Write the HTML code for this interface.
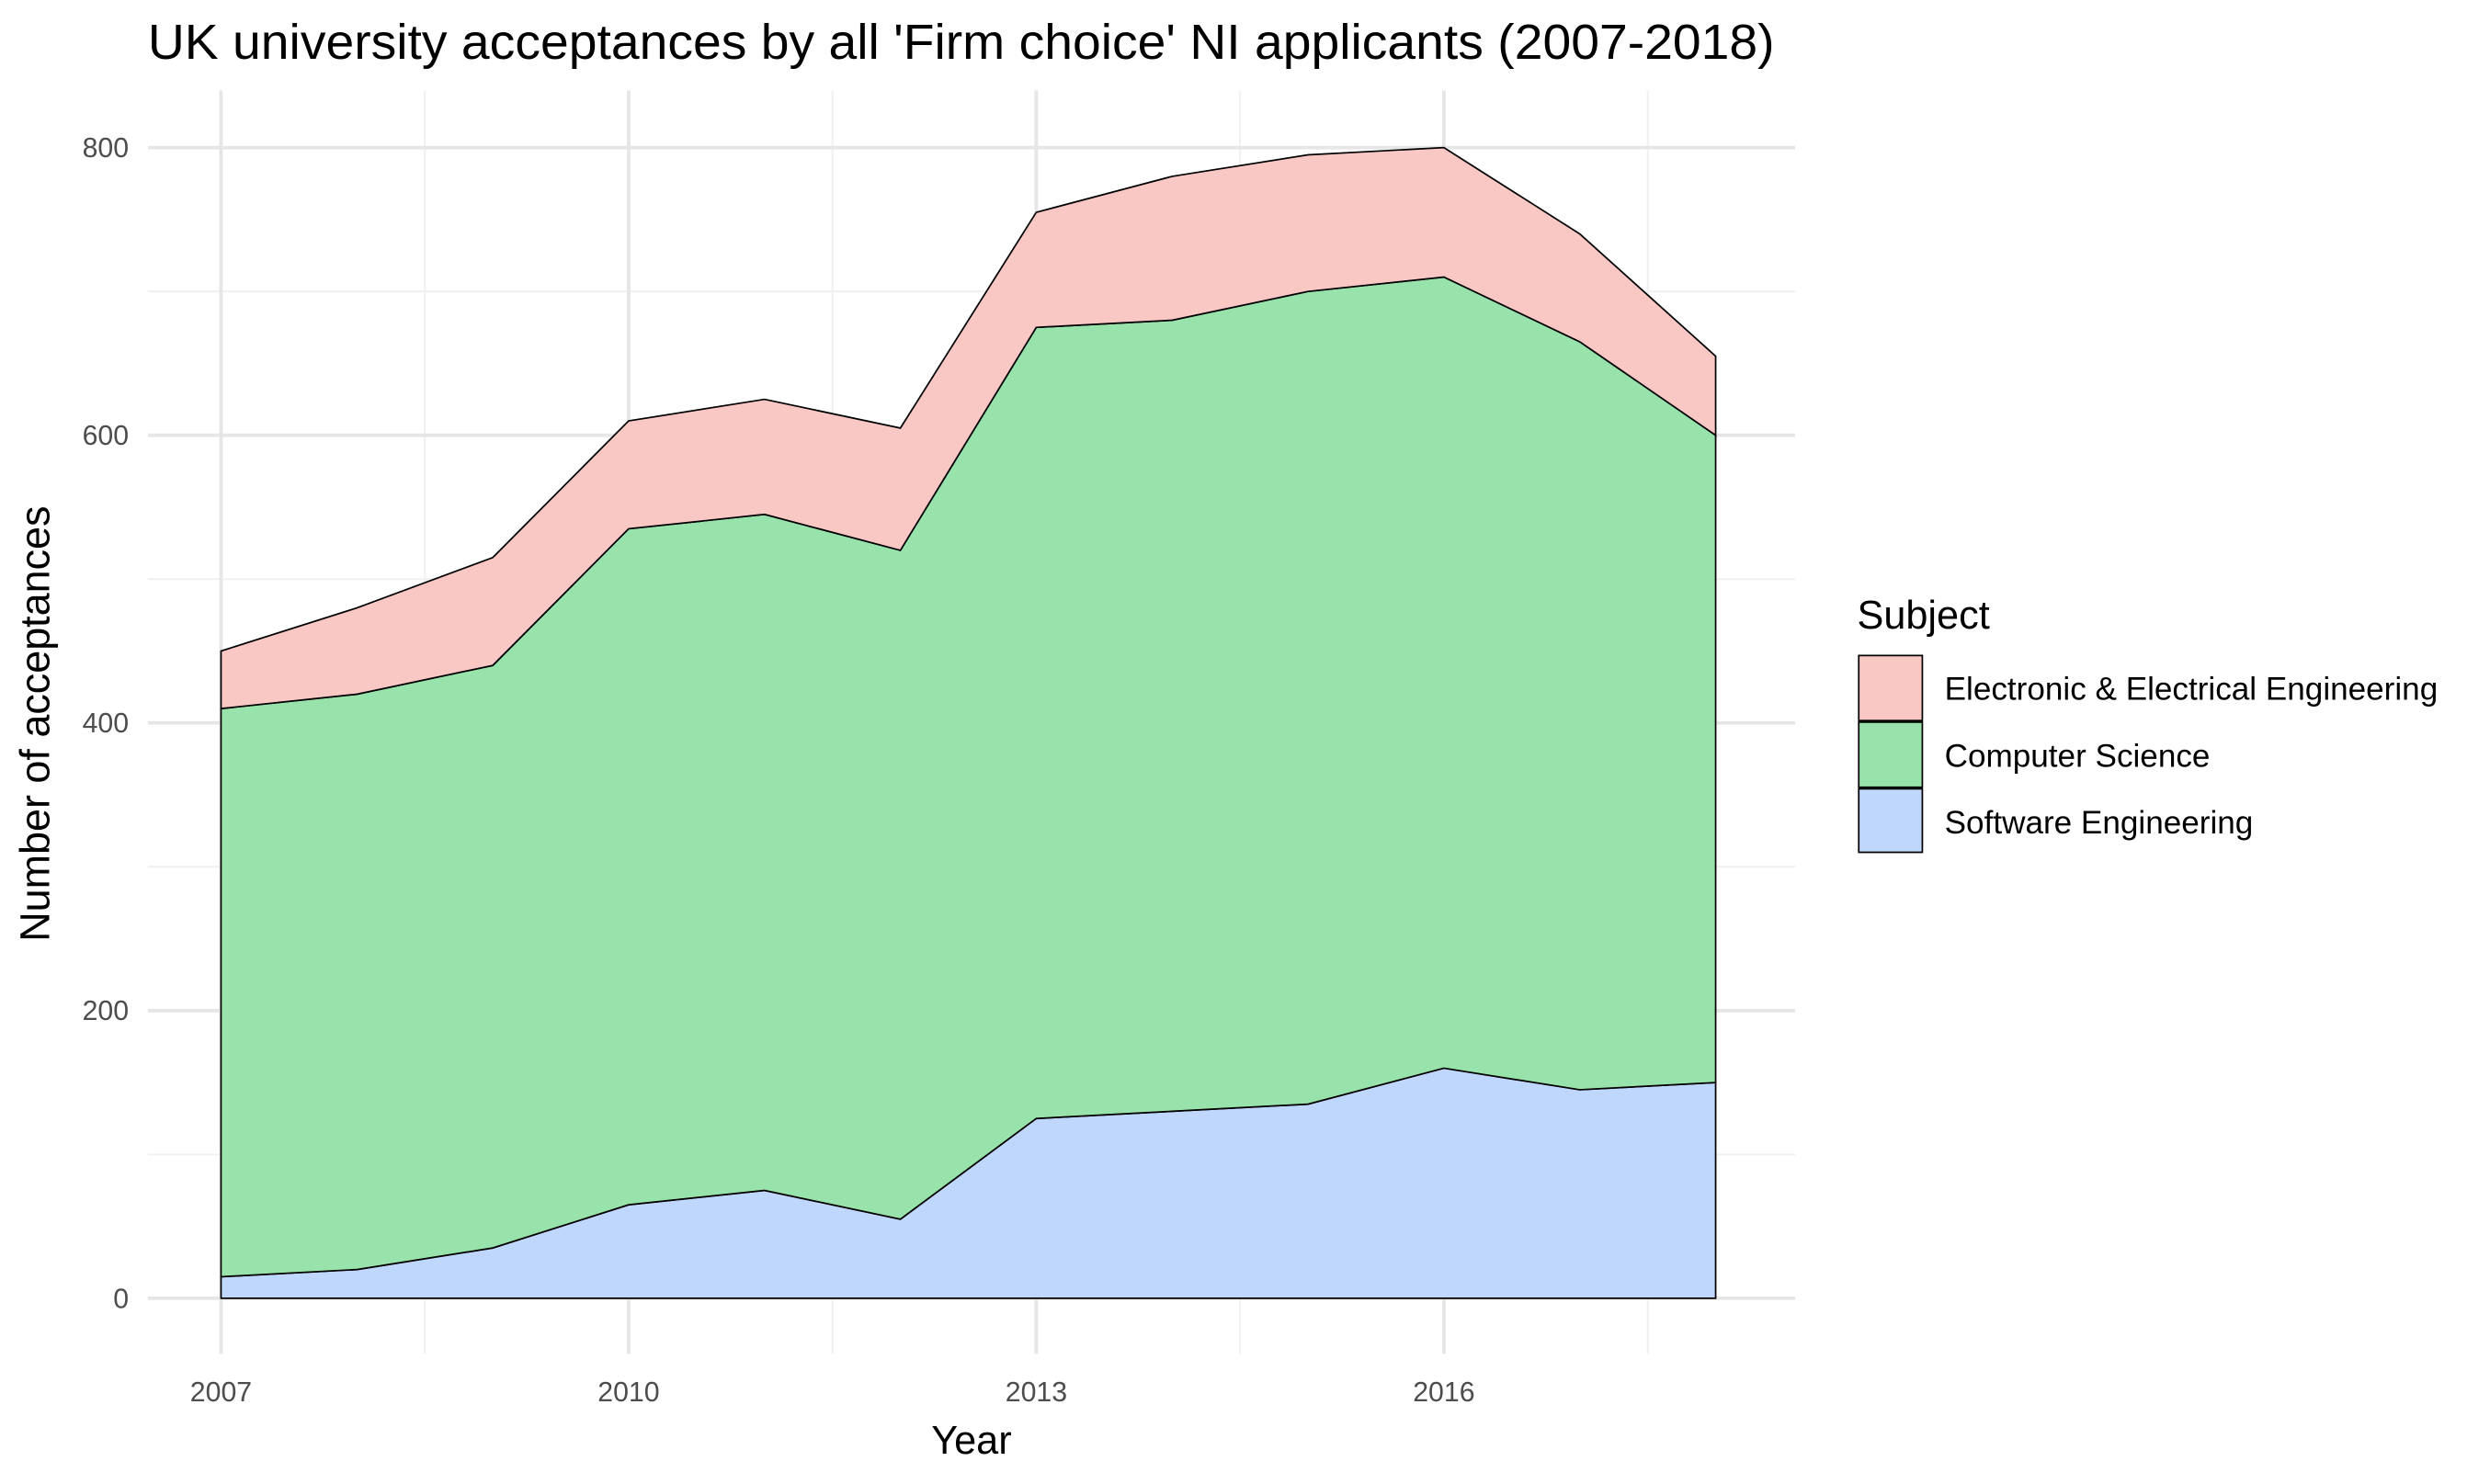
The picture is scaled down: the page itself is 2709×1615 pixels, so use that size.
<!DOCTYPE html>
<html><head><meta charset="utf-8"><style>
html,body{margin:0;padding:0;background:#fff;}
svg{display:block;font-family:"Liberation Sans",sans-serif;}
</style></head><body>
<svg id="chart" width="2709" height="1615" viewBox="0 0 1566 935" preserveAspectRatio="none" xmlns="http://www.w3.org/2000/svg">
<rect width="1566" height="935" fill="#fff"/>
<g id="grid"></g>
<g id="areas"></g>
<g id="axes"></g>
<text x="93" y="37" font-size="31" fill="#000" textLength="1023" lengthAdjust="spacingAndGlyphs">UK university acceptances by all 'Firm choice' NI applicants (2007-2018)</text>
<text x="611" y="916" font-size="25" text-anchor="middle">Year</text>
<text transform="translate(31,456) rotate(-90)" font-size="26" text-anchor="middle">Number of acceptances</text>
<g>
<text x="1168" y="396" font-size="25">Subject</text>
<rect x="1169" y="413" width="40" height="41" fill="#f9c8c4" stroke="#000" stroke-width="1"/>
<rect x="1169" y="455" width="40" height="41" fill="#98e3ab" stroke="#000" stroke-width="1"/>
<rect x="1169" y="497" width="40" height="40" fill="#bfd6fd" stroke="#000" stroke-width="1"/>
<text x="1223" y="441" font-size="20.3">Electronic &amp; Electrical Engineering</text>
<text x="1223" y="483" font-size="20.3">Computer Science</text>
<text x="1223" y="525" font-size="20.3">Software Engineering</text>
</g>
</svg>
<script>
const years = [2007,2008,2009,2010,2011,2012,2013,2014,2015,2016,2017,2018];
const softwareEng = [15,20,35,65,75,55,125,130,135,160,145,150];
const computerSci = [395,400,405,470,470,465,550,550,565,550,520,450];
const electronicEng = [40,60,75,75,80,85,80,100,95,90,75,55];
const yTicks = [0,200,400,600,800];
const xTicks = [2007,2010,2013,2016];

const NS = "http://www.w3.org/2000/svg";
const X = v => 139 + (v - 2007) * (1079 - 139) / 11;
const Y = v => 818 - v * (818 - 93) / 800;
function mk(tag, attrs, parent){const e=document.createElementNS(NS,tag);for(const k in attrs)e.setAttribute(k,attrs[k]);parent.appendChild(e);return e;}
const grid=document.getElementById('grid'), areas=document.getElementById('areas'), axes=document.getElementById('axes');

for(let v=100; v<=700; v+=200){
  const l=mk('line',{x1:93,x2:1129,y1:Y(v),y2:Y(v),stroke:'#f0f0f0','stroke-width':1.2},grid);
  
  
}
for(let v=2008.5; v<2019; v+=3){
  const l=mk('line',{x1:X(v),x2:X(v),y1:57,y2:853,stroke:'#f0f0f0','stroke-width':1.2},grid);
  
  
}
yTicks.forEach(v=>{
  const l=mk('line',{x1:93,x2:1129,y1:Y(v),y2:Y(v),stroke:'#e6e6e6','stroke-width':2.2},grid);
  
  
  const t=mk('text',{x:81,y:Y(v)+6,'font-size':17.5,fill:'#4d4d4d','text-anchor':'end'},axes);
  t.textContent=v;
  
  
});
xTicks.forEach(v=>{
  const l=mk('line',{x1:X(v),x2:X(v),y1:57,y2:853,stroke:'#e6e6e6','stroke-width':2.2},grid);
  
  
  const t=mk('text',{x:X(v),y:883,'font-size':17.5,fill:'#4d4d4d','text-anchor':'middle'},axes);
  t.textContent=v;
  
  
});

const series=[
  {name:'area-software-engineering',vals:softwareEng,fill:'#bfd6fd'},
  {name:'area-computer-science',vals:computerSci,fill:'#98e3ab'},
  {name:'area-electronic-engineering',vals:electronicEng,fill:'#f9c8c4'}
];
let base=years.map(()=>0);
series.forEach(s=>{
  const top=base.map((b,i)=>b+s.vals[i]);
  let d='M'+years.map((y,i)=>X(y)+','+Y(top[i])).join(' L');
  for(let i=years.length-1;i>=0;i--) d+=' L'+X(years[i])+','+Y(base[i]);
  d+=' Z';
  const p=mk('path',{d:d,fill:s.fill,stroke:'#000','stroke-width':1},areas);
  
  
  base=top;
});
</script>
</body></html>
